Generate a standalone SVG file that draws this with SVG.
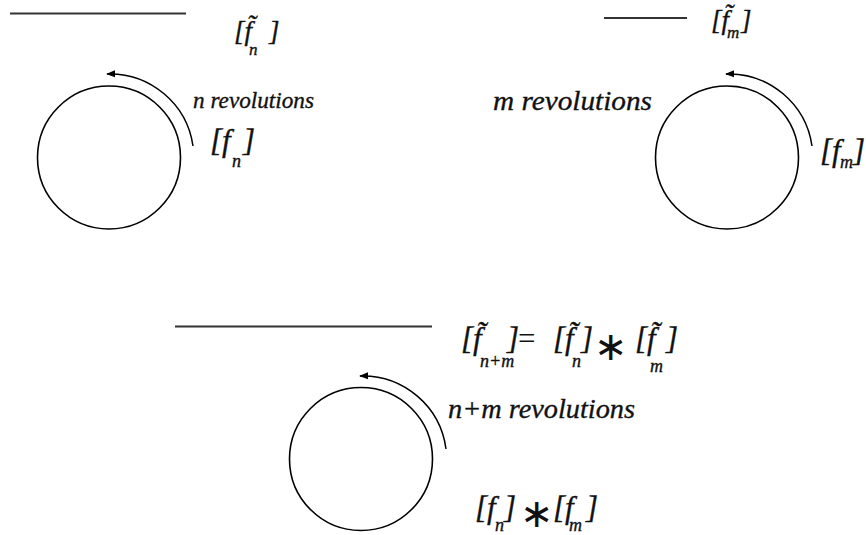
<svg xmlns="http://www.w3.org/2000/svg" width="866" height="535" viewBox="0 0 866 535">
<defs>
<marker id="ah" viewBox="0 0 10 10" refX="9" refY="5" markerWidth="9" markerHeight="9" markerUnits="userSpaceOnUse" orient="auto">
<path d="M0,1 L10,5 L0,9 z" fill="#000"/>
</marker>
<style>
.t{font-family:"Liberation Serif",serif;font-style:italic;fill:#111;stroke:#111;stroke-width:0.35}
.rev{font-size:24px}
.rev2{font-size:28px}
.br{font-size:31px}
.brs{font-size:27px}
.sub{font-size:18px}
.subs{font-size:17px}
.eq{font-style:normal;stroke-width:0}
.ast{font-family:"DejaVu Sans",sans-serif;font-style:normal;font-size:40px;stroke-width:0}
.line{stroke:#333;stroke-width:2;fill:none}
.circ{stroke:#000;stroke-width:1.6;fill:none}
.arc{stroke:#000;stroke-width:1.5;fill:none;marker-end:url(#ah)}
</style>
</defs>
<rect width="866" height="535" fill="#fff"/>
<g id="connectors">
<line class="line" x1="10" y1="13.5" x2="186" y2="13.5"/>
<line class="line" x1="604" y1="18" x2="687" y2="18"/>
<line class="line" x1="175" y1="326.5" x2="432" y2="326.5"/>
<path class="arc" d="M193,146 A84,84 0 0 0 107,74"/>
<path class="arc" d="M812,146 A84,84 0 0 0 726,74"/>
<path class="arc" d="M446,449 A84,84 0 0 0 360,376"/>
</g>
<g id="circle-n">
<circle class="circ" cx="109" cy="157.5" r="71.5"/>
</g>
<g id="circle-m">
<circle class="circ" cx="727" cy="157.5" r="71.5"/>
</g>
<g id="circle-nm">
<circle class="circ" cx="361" cy="459" r="71.5"/>
</g>
<g id="label-ftilde-n">
<text class="t brs" x="234" y="40">[f̃<tspan class="subs" x="249" y="55">n</tspan><tspan x="269" y="40">]</tspan></text>
</g>
<g id="label-n-rev">
<text class="t rev" x="193" y="108" textLength="121" lengthAdjust="spacingAndGlyphs">n revolutions</text>
</g>
<g id="label-f-n">
<text class="t br" x="210" y="151">[f<tspan class="sub" x="232" y="167">n</tspan><tspan x="243" y="151">]</tspan></text>
</g>
<g id="label-ftilde-m">
<text class="t brs" x="711" y="29">[f̃<tspan class="subs" x="727" y="38">m</tspan><tspan x="741" y="29">]</tspan></text>
</g>
<g id="label-m-rev">
<text class="t rev2" x="493" y="110" textLength="159" lengthAdjust="spacingAndGlyphs">m revolutions</text>
</g>
<g id="label-f-m">
<text class="t br" x="820" y="161">[<tspan x="832" y="161">f</tspan><tspan class="sub" x="840" y="168">m</tspan><tspan x="853" y="161">]</tspan></text>
</g>
<g id="label-equation">
<text class="t br" x="461" y="349">[f̃<tspan class="sub" x="480" y="367">n+m</tspan><tspan x="507" y="349">]</tspan><tspan class="eq" x="518" y="349">=</tspan><tspan x="553" y="349">[f̃</tspan><tspan class="sub" x="572" y="367">n</tspan><tspan x="581" y="349">]</tspan><tspan class="ast" x="594" y="360">∗</tspan><tspan x="635" y="349">[f̃</tspan><tspan class="sub" x="650" y="372">m</tspan><tspan x="666" y="349">]</tspan></text>
</g>
<g id="label-nm-rev">
<text class="t rev2" x="448" y="418" textLength="187" lengthAdjust="spacingAndGlyphs">n+m revolutions</text>
</g>
<g id="label-product">
<text class="t br" x="475" y="518">[f<tspan class="sub" x="495" y="531">n</tspan><tspan x="504" y="518">]</tspan><tspan class="ast" x="520" y="527">∗</tspan><tspan x="553" y="518">[f</tspan><tspan class="sub" x="569" y="531">m</tspan><tspan x="586" y="518">]</tspan></text>
</g>
</svg>
